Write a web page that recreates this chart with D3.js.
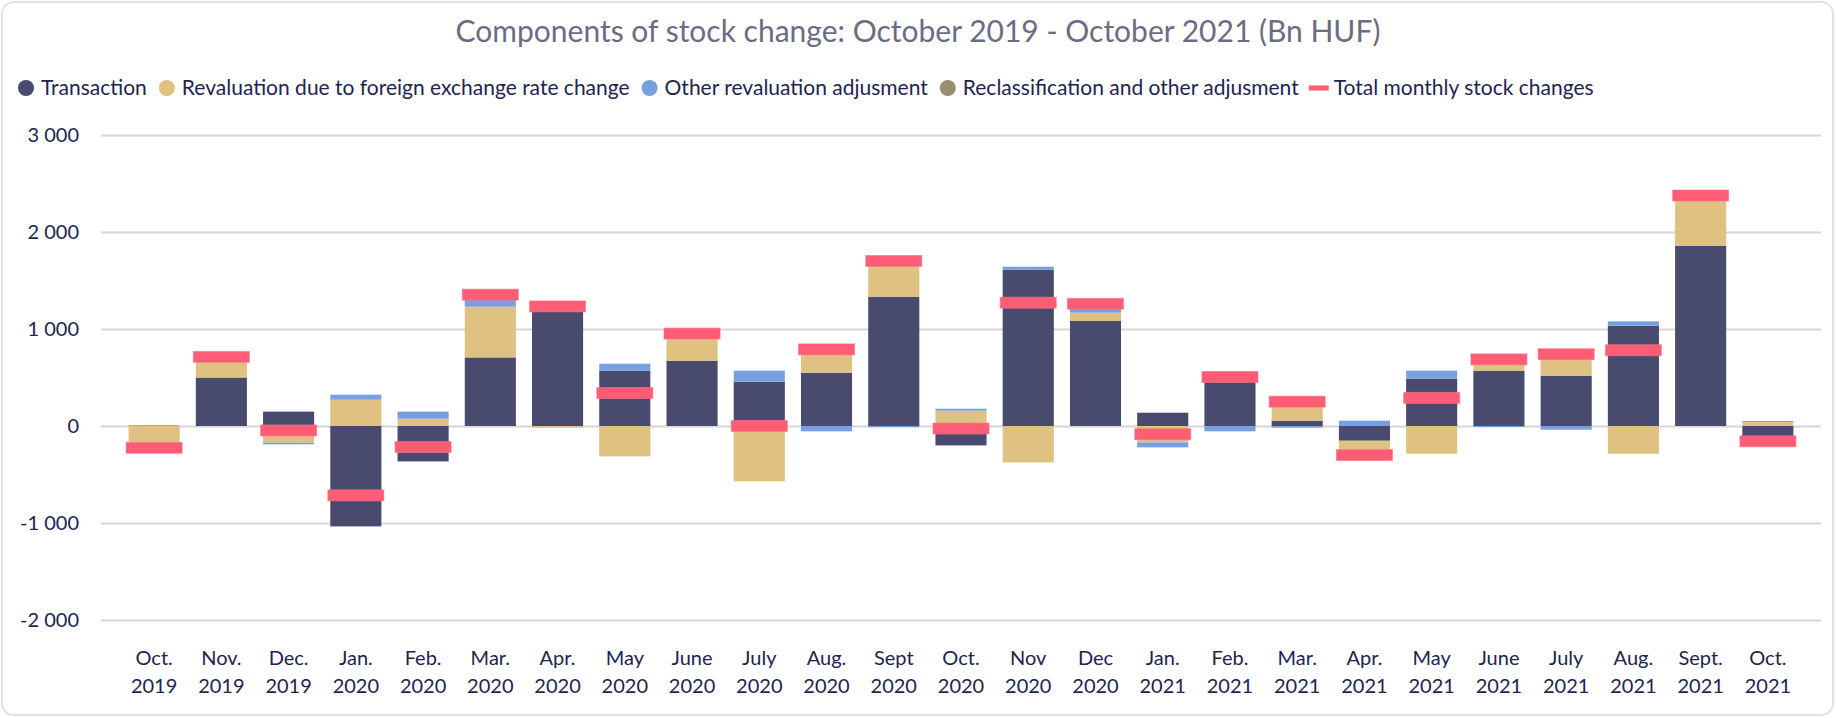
<!DOCTYPE html>
<html>
<head>
<meta charset="utf-8">
<script src="https://cdn.jsdelivr.net/npm/d3@7"></script>
<style>
  body { margin: 0; background: #fff; }
  svg { display: block; font-family: Lato, "Open Sans", sans-serif; }
</style>
</head>
<body>
<div id="canvas"></div>
<script>
// data (Bn HUF)
var categories = ['Oct. 2019','Nov. 2019','Dec. 2019','Jan. 2020','Feb. 2020','Mar. 2020','Apr. 2020','May 2020',
  'June 2020','July 2020','Aug. 2020','Sept 2020','Oct. 2020','Nov 2020','Dec 2020','Jan. 2021','Feb. 2021',
  'Mar. 2021','Apr. 2021','May 2021','June 2021','July 2021','Aug. 2021','Sept. 2021','Oct. 2021'];

var transaction      = [0, 500, 148, -1035, -365, 707, 1250, 570, 673, 457, 550, 1333, -200, 1611, 1086, 137, 560, 55, -152, 488, 570, 519, 1034, 1859, -205];
var fxRevaluation    = [-170, 210, -172, 271, 75, 523, -17, -313, 280, -571, 290, 384, 158, -375, 82, -169, 0, 213, -200, -286, 127, 259, -286, 517, 41];
var otherRevaluation = [8, 0, -17, 52, 73, 120, 0, 72, 0, 113, -55, -12, 20, 31, 90, -51, -55, -17, 55, 82, -10, -38, 45, 0, 10];
var reclassification = [0, 0, 0, 0, 0, 0, 0, 0, 0, 0, 0, 0, 0, 0, 0, 0, 0, 0, 0, 0, 0, 0, 0, 0, 0];
var totalChange      = [-225, 713, -46, -715, -217, 1354, 1233, 340, 953, 0, 790, 1702, -26, 1271, 1260, -85, 505, 251, -300, 290, 687, 740, 781, 2376, -158];

var yTicks = [-2000, -1000, 0, 1000, 2000, 3000];

var seriesNames = ['Transaction', 'Revaluation due to foreign exchange rate change',
  'Other revaluation adjusment', 'Reclassification and other adjusment'];
var totalName = 'Total monthly stock changes';
var colors = ['#484a6e', '#dfc181', '#78a0e0', '#9b8e73'];
var totalColor = '#ff5c75';
var textColor = '#22244f';

var W = 1836, H = 718;

var svg = d3.select('#canvas').append('svg')
  .attr('width', W)
  .attr('height', H);

// card
svg.append('rect')
  .attr('x', 2).attr('y', 2)
  .attr('width', W - 5).attr('height', H - 5)
  .attr('rx', 12)
  .attr('fill', '#fff')
  .attr('stroke', '#e1e1ea')
  .attr('stroke-width', 2);

// title
svg.append('text')
  .attr('x', W / 2).attr('y', 42)
  .attr('text-anchor', 'middle')
  .attr('fill', '#6b6c84')
  .style('font-size', '30px')
  .text('Components of stock change: October 2019 - October 2021 (Bn HUF)');

// scales
var x = d3.scaleBand()
  .domain(categories)
  .range([101, 1821])
  .paddingInner(0.24)
  .paddingOuter(0.41);

var y = d3.scaleLinear()
  .domain([-2000, 3000])
  .range([620, 135]);

// gridlines + y labels
var axisY = d3.axisLeft(y)
  .tickValues(yTicks)
  .tickSize(-(1821 - 101))
  .tickPadding(22)
  .tickFormat(function(d){ return d3.format(',')(d).replace(/,/g, ' ').replace('\u2212', '-'); });

var gy = svg.append('g')
  .attr('transform', 'translate(101,0)')
  .call(axisY);
gy.select('.domain').remove();
gy.selectAll('.tick line').attr('stroke', '#d6d6d6').attr('stroke-width', 2);
gy.selectAll('.tick text')
  .attr('fill', textColor)
  .style('font-size', '20px')
  .style('font-family', 'Lato, sans-serif');

// x labels, two lines each
var axisX = d3.axisBottom(x).tickSize(0).tickPadding(0);
var gx = svg.append('g')
  .call(axisX);
gx.select('.domain').remove();
gx.selectAll('.tick text')
  .attr('fill', textColor)
  .attr('y', 0).attr('dy', null)
  .style('font-size', '20px')
  .style('font-family', 'Lato, sans-serif')
  .each(function(d){
    var parts = d.split(' ');
    var t = d3.select(this).text(null);
    t.append('tspan').attr('x', 0).attr('y', 665).text(parts[0]);
    t.append('tspan').attr('x', 0).attr('y', 693).text(parts[1]);
  });

// stacked bars
var rows = categories.map(function(c, i){
  return {cat: c, s0: transaction[i], s1: fxRevaluation[i], s2: otherRevaluation[i], s3: reclassification[i]};
});
var stack = d3.stack()
  .keys(['s0', 's1', 's2', 's3'])
  .offset(d3.stackOffsetDiverging);
var stacked = stack(rows);

var plot = svg.append('g');
plot.selectAll('g.series')
  .data(stacked)
  .enter()
  .append('g')
  .attr('class', 'series')
  .attr('fill', function(d, i){ return colors[i]; })
  .selectAll('rect')
  .data(function(d){ return d; })
  .enter()
  .append('rect')
  .attr('x', function(d){ return x(d.data.cat); })
  .attr('y', function(d){ return y(Math.max(d[0], d[1])); })
  .attr('width', x.bandwidth())
  .attr('height', function(d){ return Math.abs(y(d[0]) - y(d[1])); });

// total markers
var mw = x.bandwidth() + 5, mh = 11;
plot.selectAll('rect.total')
  .data(totalChange)
  .enter()
  .append('rect')
  .attr('class', 'total')
  .attr('x', function(d, i){ return x(categories[i]) + x.bandwidth() / 2 - mw / 2; })
  .attr('y', function(d){ return y(d) - mh / 2; })
  .attr('width', mw)
  .attr('height', mh)
  .attr('fill', totalColor)
  .attr('stroke', 'rgba(255,120,140,0.6)')
  .attr('stroke-width', 1);

// legend
var legend = svg.append('g').attr('transform', 'translate(0,88)');
var cx = 26;
seriesNames.concat([totalName]).forEach(function(name, i){
  if (i < 4) {
    legend.append('circle')
      .attr('cx', cx).attr('cy', 0).attr('r', 8)
      .attr('fill', colors[i]);
  } else {
    legend.append('rect')
      .attr('x', cx - 10).attr('y', -2.5)
      .attr('width', 20).attr('height', 5)
      .attr('fill', totalColor);
  }
  var t = legend.append('text')
    .attr('x', cx + 15).attr('y', 0)
    .attr('dy', '0.35em')
    .attr('fill', textColor)
    .style('font-size', '21px')
    .text(name);
  cx = cx + 15 + t.node().getComputedTextLength() + 20;
});
</script>
</body>
</html>
